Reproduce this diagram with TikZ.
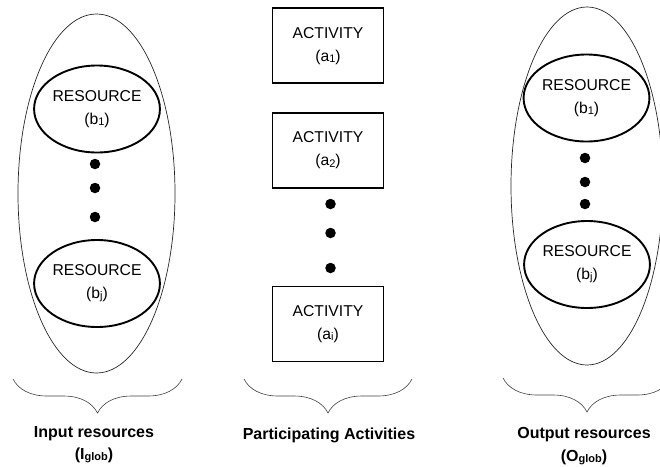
\documentclass[tikz,border=0pt]{standalone}
\usepackage{fontspec}
\setmainfont{Liberation Sans}
\usepackage{tikz}
\usetikzlibrary{shapes}
\usetikzlibrary{decorations.pathreplacing}
\newcommand{\lowidx}[1]{\raisebox{-.15ex}{\fontsize{11}{11}\selectfont #1}}
\tikzset{resource/.style={draw, ellipse, line width=1.9pt, minimum width=121pt,
   minimum height=87pt, inner sep=0pt, align=center, font=\fontsize{15.7}{23}\selectfont},
 activity/.style={draw, rectangle, line width=1.9pt, minimum width=111pt,
   minimum height=75pt, inner sep=0pt, align=center, font=\fontsize{15.7}{23}\selectfont},
 pool/.style={draw=black!85, ellipse, line width=.7pt, inner sep=0pt},
 bullet/.style={circle, fill=black, inner sep=0pt, minimum size=10.5pt},
 groupbrace/.style={draw=black!75, line width=.6pt, decorate,
   decoration={brace, mirror, amplitude=34pt}},
 groupname/.style={font=\fontsize{16}{20}\selectfont\bfseries},
 }

\begin{document}
\begin{tikzpicture}[x=1pt, y=-1pt]
        \useasboundingbox (0,0) rectangle (660,466);
        \node[pool, minimum width=157pt, minimum height=359pt] (inpool) at (96.5,193.5) {};
        \node[resource] (inb1) at (97,109) {RESOURCE\\(b\lowidx{1})};
        \node[resource] (inbj) at (97,283.5) {RESOURCE\\(b\lowidx{j})};
        \node[bullet] (indot1) at (95,164) {};
        \node[bullet] (indot2) at (95,188) {};
        \node[bullet] (indot3) at (95,217) {};
        \node[activity] (a1) at (328,45.8) {ACTIVITY\\(a\lowidx{1})};
        \node[activity] (a2) at (328,150.5) {ACTIVITY\\(a\lowidx{2})};
        \node[activity] (ai) at (328,324) {ACTIVITY\\(a\lowidx{i})};
        \node[bullet] (adot1) at (330.5,204) {};
        \node[bullet] (adot2) at (330.5,233) {};
        \node[bullet] (adot3) at (330.5,268) {};
        \node[pool, minimum width=152pt, minimum height=358pt] (outpool) at (587,186) {};
        \node[resource] (outb1) at (586.5,98) {RESOURCE\\(b\lowidx{1})};
        \node[resource] (outbj) at (587,264.5) {RESOURCE\\(b\lowidx{j})};
        \node[bullet] (outdot1) at (585,158) {};
        \node[bullet] (outdot2) at (585,182) {};
        \node[bullet] (outdot3) at (585,204) {};
        \coordinate (inl) at (13,379);
        \coordinate (inr) at (182,379);
        \coordinate (al) at (244,379);
        \coordinate (ar) at (412,379);
        \coordinate (outl) at (503,378);
        \coordinate (outr) at (671,378);
        \draw[groupbrace] (inl) -- (inr);
        \draw[groupbrace] (al) -- (ar);
        \draw[groupbrace] (outl) -- (outr);
        \node[groupname] (inname) at (94,434) {Input resources};
        \node[groupname] (inglob) at (94,455) {(I\lowidx{glob})};
        \node[groupname] (aname) at (329,435) {Participating Activities};
        \node[groupname] (outname) at (584,435) {Output resources};
        \node[groupname] (outglob) at (584,457) {(O\lowidx{glob})};
    \end{tikzpicture}
\end{document}
